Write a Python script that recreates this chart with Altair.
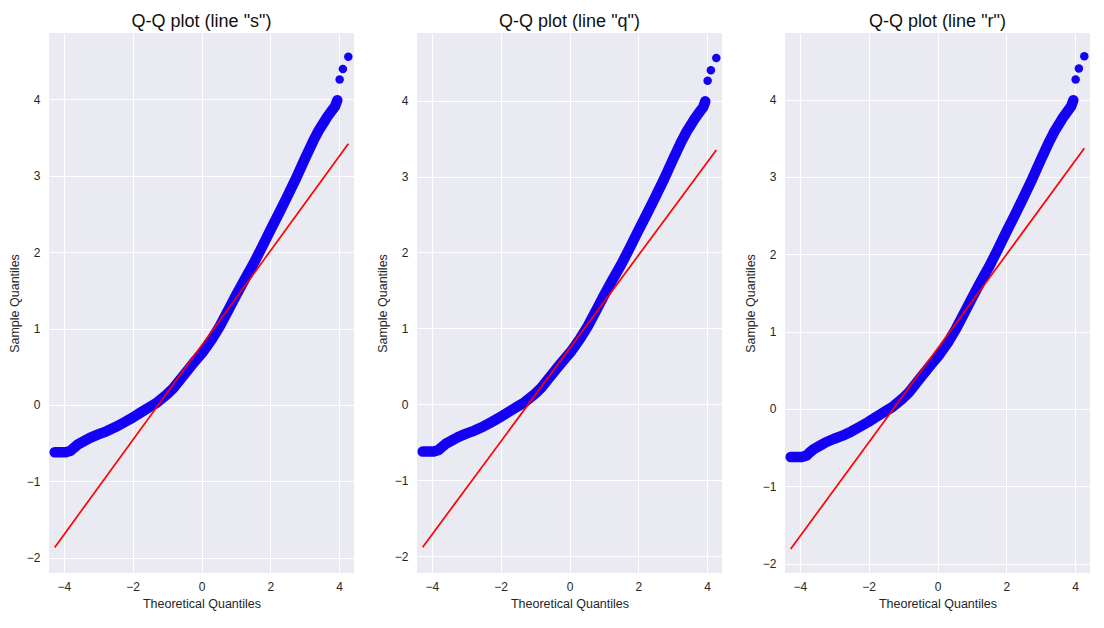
import altair as alt
import pandas as pd

# Theoretical quantiles and sample quantiles (same sample in all panels)
THEO = [-4.265, -4.107, -4.013, -3.944, -3.80, -3.73, -3.60, -3.40, -3.24, -3.00,
        -2.76, -2.50, -2.28, -2.00, -1.79, -1.50, -1.31, -1.00, -0.82, -0.50,
        -0.25, 0.05, 0.30, 0.53, 0.80, 1.02, 1.25, 1.50, 1.75, 1.99,
        2.25, 2.47, 2.75, 3.00, 3.25, 3.40, 3.54, 3.65, 3.78, 3.88,
        3.944, 4.013, 4.107, 4.265]
SAMPLE = [-0.62, -0.62, -0.62, -0.62, -0.60, -0.57, -0.52, -0.47, -0.43, -0.385,
          -0.345, -0.29, -0.236, -0.165, -0.105, -0.025, 0.026, 0.14, 0.22, 0.40,
          0.54, 0.70, 0.86, 1.03, 1.26, 1.45, 1.64, 1.84, 2.06, 2.28,
          2.51, 2.71, 2.97, 3.22, 3.46, 3.59, 3.69, 3.77, 3.85, 3.91,
          3.99, 4.26, 4.40, 4.56]

# Reference line end points for each method
LINE_X = [-4.265, 4.265]
LINE_S = [-1.865, 3.42]
LINE_Q = [-1.88, 3.35]
LINE_R = [-1.81, 3.37]

TITLES = ['Q-Q plot (line "s")', 'Q-Q plot (line "q")', 'Q-Q plot (line "r")']
Y_DOMAINS = [[-2.2, 4.87], [-2.22, 4.89], [-2.12, 4.86]]
X_DOMAIN = [-4.43, 4.43]
X_TICKS = [-4, -2, 0, 2, 4]
Y_TICKS = [-2, -1, 0, 1, 2, 3, 4]

BLUE = "#1400F5"
RED = "#FF0000"
FONT = "Liberation Sans"

pts_df = pd.DataFrame({"x": THEO, "y": SAMPLE, "order": list(range(len(THEO)))})
band_df = pts_df.iloc[:-3]


def panel(i, line_y):
    xs = alt.Scale(domain=X_DOMAIN, nice=False, zero=False)
    ys = alt.Scale(domain=Y_DOMAINS[i], nice=False, zero=False)
    x = alt.X("x:Q", scale=xs, axis=alt.Axis(values=X_TICKS, title="Theoretical Quantiles"))
    y = alt.Y("y:Q", scale=ys, axis=alt.Axis(values=Y_TICKS, title="Sample Quantiles"))
    band = alt.Chart(band_df).mark_line(
        color=BLUE, strokeWidth=10.5, strokeCap="round", strokeJoin="round"
    ).encode(x=x, y=y, order="order:Q")
    dots = alt.Chart(pts_df).mark_circle(color=BLUE, size=72, opacity=1).encode(x=x, y=y)
    line_df = pd.DataFrame({"x": LINE_X, "y": line_y})
    red = alt.Chart(line_df).mark_line(color=RED, strokeWidth=1.7).encode(x=x, y=y)
    return alt.layer(band, dots, red).properties(
        width=305,
        height=540,
        title=alt.TitleParams(
            TITLES[i], fontSize=18, font=FONT, fontWeight="normal", color="#111111",
            baseline="alphabetic", offset=-12, anchor="middle",
        ),
    )


chart = alt.hconcat(
    panel(0, LINE_S), panel(1, LINE_Q), panel(2, LINE_R), spacing=63, bounds="flush"
).configure_view(
    fill="#EAEAF2", stroke=None
).configure_axis(
    domain=False, ticks=False, grid=True, gridColor="#FFFFFF", gridWidth=1,
    labelFont=FONT, labelFontSize=12, labelColor="#262626", labelPadding=9,
    titleFont=FONT, titleFontSize=12.5, titleFontWeight="normal", titleColor="#262626",
    titlePadding=5,
).configure_axisX(
    labelPadding=8, titlePadding=5
).properties(
    padding={"left": 0, "top": 5, "right": 5, "bottom": 5},
    background="white",
)

chart.save("out.html", embed_options={"renderer": "svg", "actions": False})
